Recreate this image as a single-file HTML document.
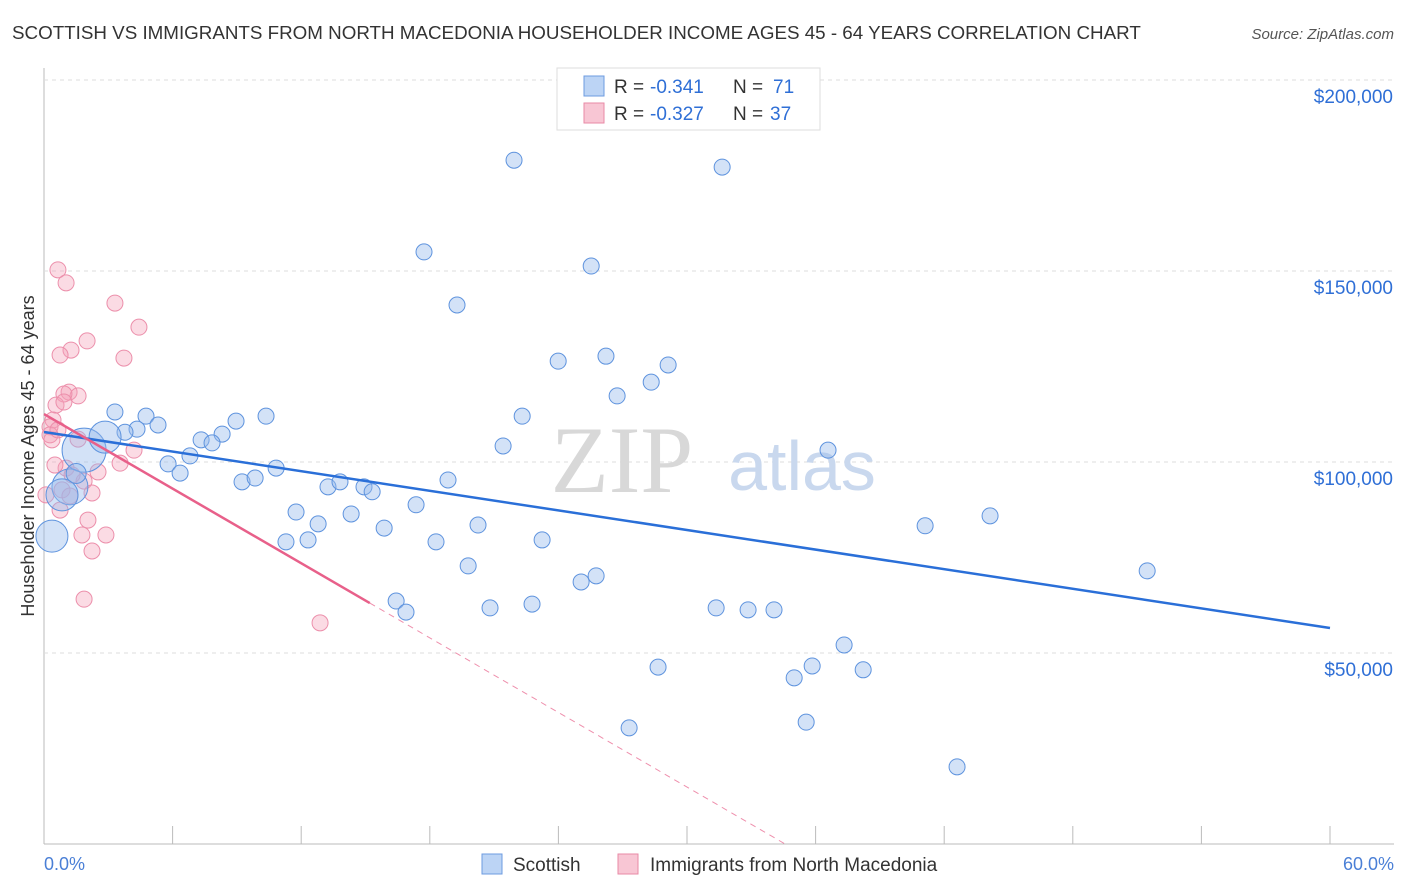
<!DOCTYPE html>
<html><head><meta charset="utf-8"><style>
body{margin:0;background:#fff;font-family:"Liberation Sans",sans-serif;}
svg{display:block}
</style></head><body>
<svg id="chart" width="1406" height="892">
<text x="12" y="39" font-size="18.8" fill="#333">SCOTTISH VS IMMIGRANTS FROM NORTH MACEDONIA HOUSEHOLDER INCOME AGES 45 - 64 YEARS CORRELATION CHART</text>
<text x="1394" y="39" font-size="15" fill="#555" font-style="italic" text-anchor="end">Source: ZipAtlas.com</text>
<text x="0" y="0" transform="translate(34,456) rotate(-90)" font-size="18" fill="#333" text-anchor="middle">Householder Income Ages 45 - 64 years</text>
<g id="grid"></g>
<text x="622" y="492" font-size="95" fill="#d8d8d8" font-family="Liberation Serif,serif" text-anchor="middle">ZIP</text>
<text x="802" y="490" font-size="70" fill="#c9d8ee" text-anchor="middle">atlas</text>
<g id="points"></g>
<g id="lines"></g>
<g>
<rect x="557" y="68" width="263" height="62" fill="#fff" stroke="#ddd"/>
<rect x="584" y="76" width="20" height="20" fill="#bcd4f5" stroke="#6d9be0"/>
<rect x="584" y="103" width="20" height="20" fill="#f8c6d4" stroke="#e88aa6"/>
<text x="614" y="93" font-size="19" fill="#333">R =</text>
<text x="650" y="93" font-size="19" fill="#2f6fd6">-0.341</text>
<text x="733" y="93" font-size="19" fill="#333">N =</text>
<text x="773" y="93" font-size="19" fill="#2f6fd6">71</text>
<text x="614" y="120" font-size="19" fill="#333">R =</text>
<text x="650" y="120" font-size="19" fill="#2f6fd6">-0.327</text>
<text x="733" y="120" font-size="19" fill="#333">N =</text>
<text x="770" y="120" font-size="19" fill="#2f6fd6">37</text>
</g>
<g>
<rect x="482" y="854" width="20" height="20" fill="#bcd4f5" stroke="#6d9be0"/>
<text x="513" y="871" font-size="19" fill="#333">Scottish</text>
<rect x="618" y="854" width="20" height="20" fill="#f8c6d4" stroke="#e88aa6"/>
<text x="650" y="871" font-size="19" fill="#333">Immigrants from North Macedonia</text>
</g>
<text x="44" y="870" font-size="18" fill="#4a7fd6">0.0%</text>
<text x="1394" y="870" font-size="18" fill="#4a7fd6" text-anchor="end">60.0%</text>
</svg>
<script>
const yTicks=[50000,100000,150000,200000];
const yTickLabels=["$50,000","$100,000","$150,000","$200,000"];
const xTicks=[0,6,12,18,24,30,36,42,48,54,60];
const blueX=[21.93,31.64,17.73,25.53,19.27,23.99,26.22,29.12,28.33,26.74,22.31,10.36,4.76,3.31,5.32,4.34,3.78,8.96,8.31,7.33,7.84,21.42,36.58,6.81,5.79,6.35,10.83,9.24,9.85,18.85,13.25,13.81,14.93,15.31,17.36,11.76,14.33,12.79,20.25,15.87,41.11,44.14,11.29,12.32,18.29,23.24,51.47,19.79,25.06,25.76,16.43,16.89,20.81,22.77,31.36,32.85,34.06,37.33,28.65,35.84,38.22,35.0,35.56,27.30,42.60,1.87,2.85,1.21,0.84,0.37,1.5];
const blueY=[179000,177200,155000,151300,141100,126400,127700,125400,120900,117300,112000,112000,112000,113100,109700,108600,107800,110700,107300,105800,105000,104200,103100,101600,99500,97100,98400,94800,95800,95300,93500,94800,93500,92200,88800,86900,86400,83800,83500,82700,83300,85900,79100,79600,79100,79600,71500,72800,68600,70200,63600,60700,61800,62800,61800,61300,61300,52100,46300,46600,45600,43500,31900,30400,20200,103100,106500,93500,91400,80600,97000];
const blueR=[8,8,8,8,8,8,8,8,8,8,8,8,8,8,8,8,8,8,8,8,8,8,8,8,8,8,8,8,8,8,8,8,8,8,8,8,8,8,8,8,8,8,8,8,8,8,8,8,8,8,8,8,8,8,8,8,8,8,8,8,8,8,8,8,8,22,16,18,16,16,10];
const pinkX=[0.65,1.03,3.31,4.43,1.26,0.75,2.01,3.73,1.17,1.59,0.93,0.56,0.42,0.28,0.28,1.59,1.03,2.52,0.51,3.55,4.20,1.87,0.84,1.21,2.05,1.77,2.89,2.24,1.87,12.88,0.09,0.75,0.37,1.31,0.93,0.65,2.24];
const pinkY=[150300,146900,141600,135300,129300,128000,131700,127200,118300,117300,117800,114900,111000,109200,107100,106000,98400,97400,99200,99700,103100,95000,92700,91100,84800,80900,80900,76700,64100,57900,91400,87400,105800,96600,115700,108400,91900];
const trendIntercept=[107850,112560];
const trendSlope=[-855,-3255];
const solidEnd=[60,15.2];
const dashEnd=[60,34.6];
const NS='http://www.w3.org/2000/svg';
const xs=v=>44+v*(1286/60);
const ys=v=>844-v/261.78;
function mk(tag,attrs,parent){const e=document.createElementNS(NS,tag);for(const k in attrs)e.setAttribute(k,attrs[k]);parent.appendChild(e);return e;}
const grid=document.getElementById('grid');
const ax=mk('line',{x1:44,y1:68,x2:44,y2:844,stroke:'#bbb'},grid);


const bx=mk('line',{x1:44,y1:844,x2:1394,y2:844,stroke:'#bbb'},grid);


yTicks.forEach((t,i)=>{
 const g=mk('line',{x1:44,x2:1394,y1:ys(t),y2:ys(t),stroke:'#ddd','stroke-dasharray':'4,4'},grid);
 
 
 const tx=mk('text',{x:1393,y:ys(t)+23,'font-size':19,fill:'#2f6fd6','text-anchor':'end'},grid);
 tx.textContent=yTickLabels[i];
 
 
});
xTicks.forEach(t=>{
 const l=mk('line',{x1:xs(t),x2:xs(t),y1:826,y2:844,stroke:'#bbb'},grid);
 
 
});
const pts=document.getElementById('points');
pinkX.forEach((x,i)=>{
 const c=mk('circle',{cx:xs(x),cy:ys(pinkY[i]),r:8,fill:'rgba(245,160,185,0.38)',stroke:'#ec8fab','stroke-width':1},pts);
 
 
});
blueX.forEach((x,i)=>{
 const c=mk('circle',{cx:xs(x),cy:ys(blueY[i]),r:blueR[i],fill:'rgba(150,185,235,0.42)',stroke:'#5e93de','stroke-width':1},pts);
 
 
});
const lines=document.getElementById('lines');
const colors=['#2a6fd8','#e8608a'];
[0,1].forEach(k=>{
 const y0=trendIntercept[k];
 const l=mk('line',{x1:xs(0),y1:ys(y0),x2:xs(solidEnd[k]),y2:ys(y0+trendSlope[k]*solidEnd[k]),stroke:colors[k],'stroke-width':2.5},lines);
 
 
 if(dashEnd[k]>solidEnd[k]){
  const d=mk('line',{x1:xs(solidEnd[k]),y1:ys(y0+trendSlope[k]*solidEnd[k]),x2:xs(dashEnd[k]),y2:ys(y0+trendSlope[k]*dashEnd[k]),stroke:colors[k],'stroke-width':1,'stroke-dasharray':'6,5','opacity':0.7},lines);
  
  
 }
});
</script>
</body></html>
